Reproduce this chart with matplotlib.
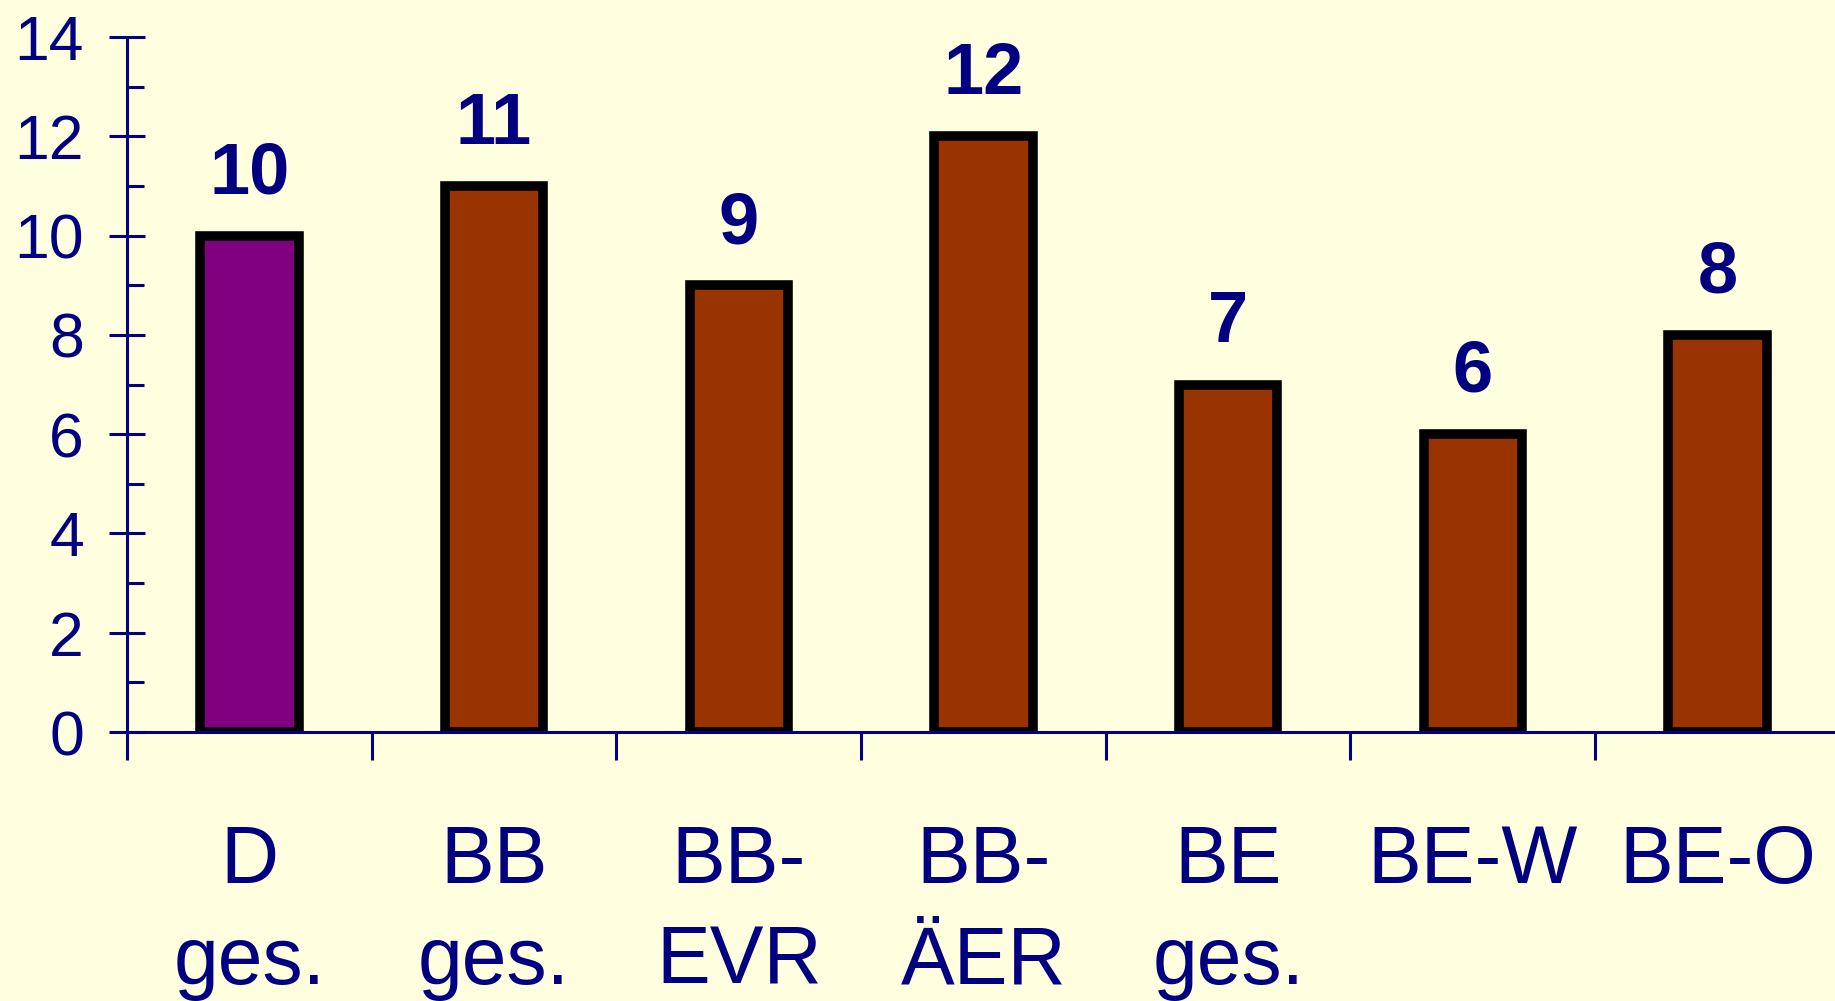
import matplotlib
matplotlib.use("Agg")
from matplotlib import pyplot as plt
from matplotlib.ticker import MultipleLocator
import matplotlib.transforms as mtransforms

# daten
categories = ["D\nges.", "BB\nges.", "BB-\nEVR", "BB-\nÄER", "BE\nges.", "BE-W", "BE-O"]
values = [10, 11, 9, 12, 7, 6, 8]
bar_colors = ["#800080", "#993300", "#993300", "#993300", "#993300", "#993300", "#993300"]
yticks = [0, 2, 4, 6, 8, 10, 12, 14]

navy = "#000080"
bg = "#FFFFE0"

plt.rcParams["font.family"] = ["Liberation Sans", "DejaVu Sans"]

W, H = 1835, 1001
fig = plt.figure(figsize=(W / 100, H / 100), dpi=100, facecolor=bg)
ax = fig.add_axes([127 / W, (H - 732) / H, (W - 127) / W, 695 / H])
ax.set_facecolor(bg)
ax.patch.set_visible(False)

x = list(range(len(values)))
ax.bar(x, values, width=0.402, color=bar_colors, edgecolor="black", linewidth=6.9, zorder=1)

ax.set_xlim(-0.5, 6.48)
ax.set_ylim(0, 14)

for s in ["top", "right"]:
    ax.spines[s].set_visible(False)
for s in ["left", "bottom"]:
    ax.spines[s].set_color(navy)
    ax.spines[s].set_linewidth(2.2)
    ax.spines[s].set_zorder(3)

# y-achse
ax.set_yticks(yticks)
ax.yaxis.set_minor_locator(MultipleLocator(1))
ax.tick_params(axis="y", which="major", direction="inout", length=26, width=2.2,
               color=navy, labelcolor=navy, labelsize=45, pad=18)
ax.tick_params(axis="y", which="minor", direction="in", length=12, width=2.2, color=navy)

# x-achse: striche zwischen den kategorien
ax.set_xticks([i - 0.5 for i in range(len(values))])
ax.set_xticklabels([])
ax.tick_params(axis="x", which="major", direction="out", length=20, width=2.2, color=navy)

# werte über den balken
for i, v in enumerate(values):
    ax.text(i, v + 0.85, str(v), ha="center", va="baseline", fontsize=52,
            fontweight="bold", color=navy)

# kategorienamen
trans = mtransforms.blended_transform_factory(ax.transData, fig.transFigure)
for i, c in enumerate(categories):
    ax.text(i, (H - 824) / H, c, transform=trans, ha="center", va="top",
            fontsize=58, color=navy, linespacing=1.42, clip_on=False)

fig.savefig("out.png", dpi=100, facecolor=bg)
